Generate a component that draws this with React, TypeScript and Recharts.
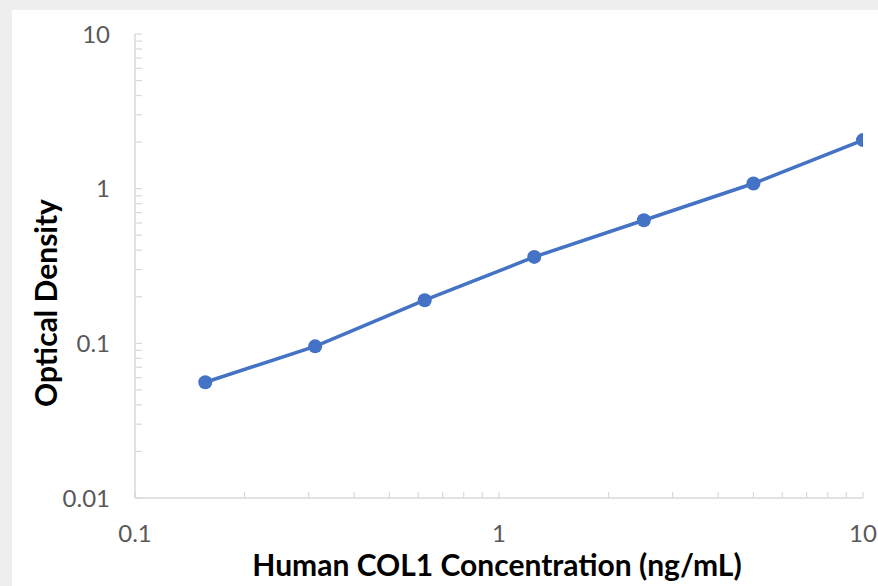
import React from "react";
import { LineChart, Line, XAxis, YAxis, Label } from "recharts";

// concentration (ng/mL) vs optical density
const concentrations = [0.156, 0.3125, 0.625, 1.25, 2.5, 5, 10];
const opticalDensity = [0.056, 0.0956, 0.19, 0.362, 0.625, 1.08, 2.06];

const xTicks = [0.1, 0.2, 0.3, 0.4, 0.5, 0.6, 0.7, 0.8, 0.9, 1, 2, 3, 4, 5, 6, 7, 8, 9, 10];
const yTicks = [
  0.01, 0.02, 0.03, 0.04, 0.05, 0.06, 0.07, 0.08, 0.09,
  0.1, 0.2, 0.3, 0.4, 0.5, 0.6, 0.7, 0.8, 0.9,
  1, 2, 3, 4, 5, 6, 7, 8, 9, 10,
];
const xTickLabels = ["0.1", "1", "10"];
const yTickLabels = ["0.01", "0.1", "1", "10"];

const data = concentrations.map((c, i) => ({ conc: c, od: opticalDensity[i] }));

const FONT = "Lato, 'Open Sans', sans-serif";
const AXIS = "#d9d9d9";
const BLUE = "#4472C4";

const labelFor = (labels: string[]) => (v: number) =>
  labels.includes(String(v)) ? String(v) : "";

export default function App() {
  return (
    <div
      style={{
        position: "fixed",
        top: 0,
        left: 0,
        width: 878,
        height: 586,
        background: "#eeeeee",
        fontFamily: FONT,
      }}
    >
      <div style={{ position: "absolute", left: 12, top: 10, background: "#fff" }}>
        <LineChart width={866} height={576} data={data} margin={{ top: 24, right: 15, bottom: 0, left: 0 }}>
          <XAxis
            dataKey="conc"
            type="number"
            scale="log"
            domain={[0.1, 10]}
            ticks={xTicks}
            interval={0}
            allowDataOverflow
            height={88}
            tickSize={-6}
            tickMargin={33}
            tickFormatter={labelFor(xTickLabels)}
            axisLine={{ stroke: AXIS, strokeWidth: 1.5 }}
            tickLine={{ stroke: AXIS, strokeWidth: 1.2 }}
            tick={{ fill: "#595959", fontSize: 24, fontFamily: FONT }}
          >
            <Label
              value="Human COL1 Concentration (ng/mL)"
              position="center"
              dx={-2}
              dy={23}
              style={{ fill: "#000", fontSize: 30, fontWeight: 700, fontFamily: FONT }}
            />
          </XAxis>
          <YAxis
            dataKey="od"
            type="number"
            scale="log"
            domain={[0.01, 10]}
            ticks={yTicks}
            interval={0}
            allowDataOverflow
            width={123}
            tickSize={-7}
            tickMargin={32}
            tickFormatter={labelFor(yTickLabels)}
            axisLine={{ stroke: AXIS, strokeWidth: 1.5 }}
            tickLine={{ stroke: AXIS, strokeWidth: 1.2 }}
            tick={{ fill: "#595959", fontSize: 24, fontFamily: FONT }}
          >
            <Label
              value="Optical Density"
              position="center"
              angle={-90}
              dx={-27}
              dy={37}
              style={{ fill: "#000", fontSize: 30, fontWeight: 700, fontFamily: FONT }}
            />
          </YAxis>
          <Line
            type="linear"
            dataKey="od"
            stroke={BLUE}
            strokeWidth={3.5}
            dot={{ r: 7, fill: BLUE, stroke: "none" }}
            activeDot={false}
            isAnimationActive={false}
          />
        </LineChart>
      </div>
    </div>
  );
}
